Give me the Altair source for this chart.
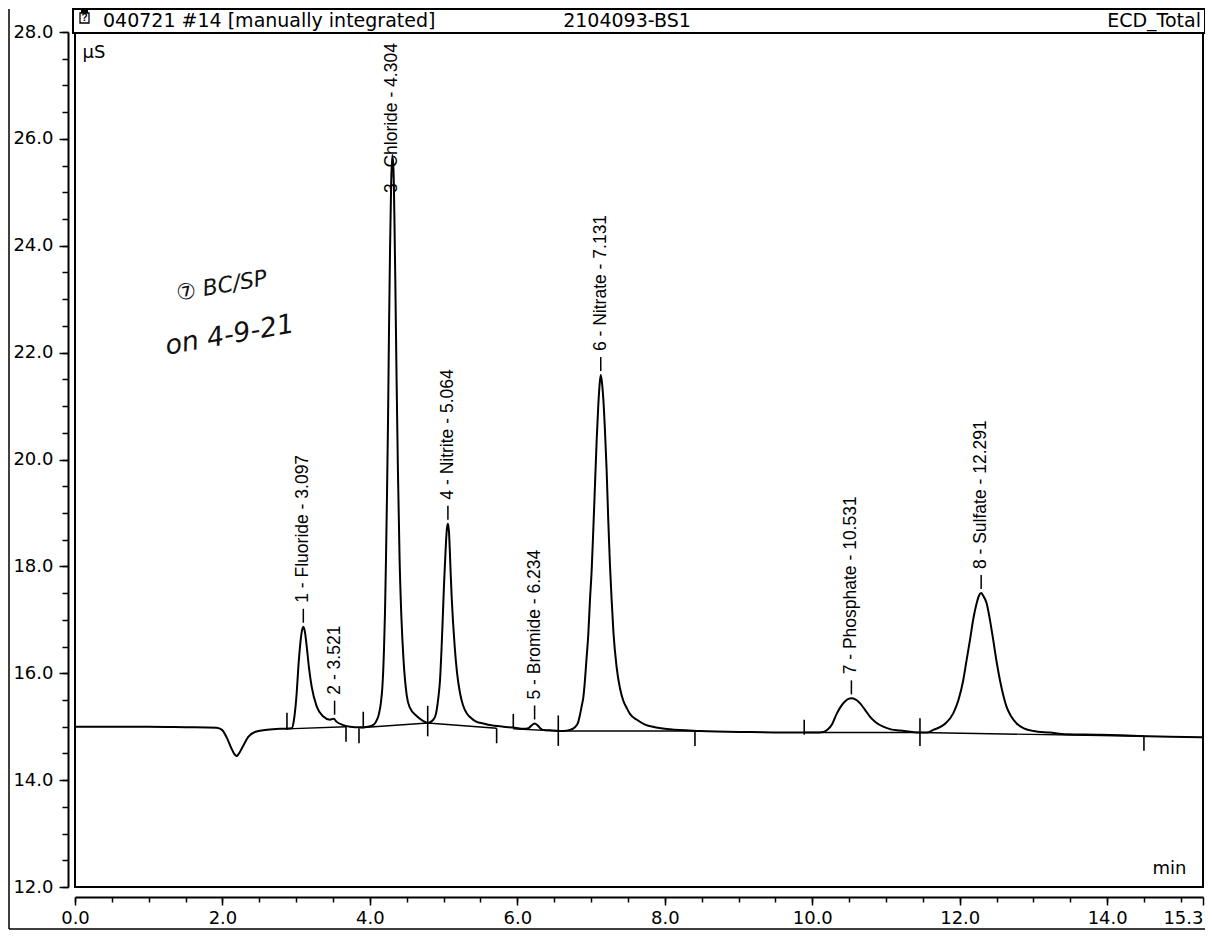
import altair as alt
import pandas as pd

# ---------------- data ----------------
trace_t = [0.000, 0.500, 1.000, 1.500, 1.920, 1.994, 2.060, 2.120, 2.160, 2.193, 2.220, 2.280, 2.350, 2.440,
           2.580, 2.780, 2.939, 2.970, 3.007, 3.031, 3.052, 3.075, 3.097, 3.119, 3.143, 3.174, 3.210, 3.278,
           3.368, 3.459, 3.509, 3.549, 3.639, 3.730, 3.865, 3.974, 4.055, 4.096, 4.123, 4.150, 4.171, 4.191,
           4.205, 4.218, 4.232, 4.246, 4.259, 4.273, 4.288, 4.304, 4.320, 4.334, 4.348, 4.362, 4.380, 4.403,
           4.426, 4.456, 4.499, 4.544, 4.634, 4.720, 4.784, 4.860, 4.896, 4.928, 4.950, 4.973, 4.990, 5.005,
           5.020, 5.034, 5.046, 5.058, 5.072, 5.084, 5.096, 5.110, 5.128, 5.150, 5.181, 5.222, 5.263, 5.313,
           5.357, 5.448, 5.538, 5.629, 5.809, 5.968, 6.080, 6.150, 6.190, 6.234, 6.278, 6.320, 6.351, 6.483,
           6.623, 6.714, 6.781, 6.822, 6.849, 6.876, 6.894, 6.917, 6.937, 6.962, 6.985, 7.008, 7.030, 7.053,
           7.076, 7.098, 7.115, 7.131, 7.147, 7.167, 7.188, 7.211, 7.233, 7.256, 7.279, 7.303, 7.346, 7.392,
           7.436, 7.487, 7.527, 7.622, 7.731, 7.866, 8.070, 8.477, 9.155, 9.833, 10.037, 10.149, 10.213,
           10.267, 10.331, 10.389, 10.443, 10.490, 10.531, 10.585, 10.646, 10.714, 10.782, 10.864, 10.963,
           11.068, 11.190, 11.460, 11.556, 11.641, 11.732, 11.813, 11.912, 11.983, 12.048, 12.094, 12.139,
           12.186, 12.230, 12.261, 12.291, 12.319, 12.365, 12.410, 12.455, 12.501, 12.546, 12.591, 12.636,
           12.695, 12.772, 12.871, 12.997, 13.224, 13.450, 13.902, 14.354, 14.851, 15.300]
trace_v = [15.00, 15.00, 15.00, 14.99, 14.98, 14.94, 14.79, 14.60, 14.49, 14.45, 14.49, 14.64, 14.81, 14.90,
           14.94, 14.96, 14.97, 15.13, 15.63, 16.15, 16.50, 16.77, 16.87, 16.77, 16.50, 16.10, 15.75, 15.38,
           15.19, 15.13, 15.15, 15.09, 15.03, 15.00, 14.99, 15.00, 15.04, 15.13, 15.24, 15.46, 15.78, 16.44,
           17.15, 18.12, 19.34, 20.74, 22.42, 23.92, 25.14, 25.70, 25.42, 24.39, 22.99, 21.49, 19.80, 18.12,
           17.09, 16.25, 15.59, 15.35, 15.20, 15.11, 15.07, 15.13, 15.24, 15.54, 15.85, 16.50, 17.10, 17.65,
           18.10, 18.50, 18.72, 18.80, 18.66, 18.30, 17.85, 17.40, 16.95, 16.50, 16.02, 15.63, 15.40, 15.25,
           15.18, 15.09, 15.06, 15.03, 15.00, 14.98, 14.96, 14.97, 15.02, 15.06, 15.02, 14.96, 14.94, 14.93,
           14.92, 14.94, 14.99, 15.07, 15.22, 15.41, 15.54, 15.87, 16.25, 16.72, 17.37, 17.93, 18.68, 19.52,
           20.37, 21.02, 21.39, 21.58, 21.45, 21.11, 20.55, 19.80, 18.87, 18.03, 17.37, 16.77, 16.12, 15.72,
           15.49, 15.34, 15.24, 15.13, 15.04, 14.99, 14.95, 14.92, 14.90, 14.89, 14.89, 14.90, 14.95,
           15.04, 15.24, 15.38, 15.47, 15.52, 15.53, 15.51, 15.44, 15.32, 15.19, 15.08, 15.00,
           14.95, 14.93, 14.89, 14.89, 14.94, 14.99, 15.07, 15.25, 15.50, 15.87, 16.25, 16.62,
           17.03, 17.31, 17.45, 17.50, 17.45, 17.31, 17.00, 16.62, 16.21, 15.87, 15.59, 15.37,
           15.20, 15.06, 14.97, 14.92, 14.89, 14.86, 14.85, 14.83, 14.81, 14.80]

peak_labels = ["1 - Fluoride - 3.097", "2 - 3.521", "3 - Chloride - 4.304", "4 - Nitrite - 5.064",
               "5 - Bromide - 6.234", "6 - Nitrate - 7.131", "7 - Phosphate - 10.531", "8 - Sulfate - 12.291"]
peak_t = [3.097, 3.521, 4.304, 5.058, 6.234, 7.131, 10.531, 12.291]
label_v = [16.87, 15.15, 24.54, 18.80, 15.06, 21.58, 15.53, 17.50]
dash_flag = [1, 1, 0, 1, 1, 1, 1, 1]

tick_t = [2.875, 3.676, 3.852, 3.910, 4.784, 5.719, 5.945, 6.555, 8.409, 9.891, 11.461, 14.499]
tick_lo = [14.94, 14.72, 14.69, 14.97, 14.82, 14.69, 14.97, 14.64, 14.64, 14.85, 14.64, 14.55]
tick_hi = [15.26, 15.00, 14.97, 15.28, 15.39, 14.97, 15.24, 15.21, 14.92, 15.13, 15.16, 14.81]

base_seg = [1, 1, 2, 2, 2, 3, 3, 4, 4, 5, 5, 5]
base_t = [2.875, 3.676, 3.866, 4.784, 5.719, 5.945, 6.555, 6.555, 8.409, 9.891, 11.461, 14.499]
base_v = [14.96, 15.00, 14.98, 15.07, 14.97, 14.96, 14.92, 14.92, 14.92, 14.89, 14.89, 14.82]

x_major_ticks = [0, 2, 4, 6, 8, 10, 12, 14]
x_end_tick = [15.3]
x_minor_ticks = [i * 0.5 for i in range(31)]
y_major_ticks = [12, 14, 16, 18, 20, 22, 24, 26, 28]
y_minor_ticks = [12 + i * 0.5 for i in range(33)]

header_left = "040721 #14 [manually integrated]"
header_mid = "2104093-BS1"
header_right = "ECD_Total"

note_text = ["\u2466 BC/SP", "on 4-9-21"]
note_t = [1.99, 2.10]
note_v = [23.25, 22.32]
note_size = [22, 27]

# ---------------- chart ----------------
FONT = "Liberation Sans"
WIDE = "DejaVu Sans"
W, H = 1128, 855

trace_df = pd.DataFrame({"t": trace_t, "v": trace_v})
labels_df = pd.DataFrame({"t": peak_t, "v": label_v, "label": peak_labels, "dash": dash_flag})
ticks_df = pd.DataFrame({"t": tick_t, "lo": tick_lo, "hi": tick_hi})
base_df = pd.DataFrame({"seg": base_seg, "t": base_t, "v": base_v})
note_df = pd.DataFrame({"t": note_t, "v": note_v, "text": note_text, "size": note_size})
one = pd.DataFrame({"a": [0]})

xs = alt.Scale(domain=[0, 15.3], nice=False, zero=False)
ys = alt.Scale(domain=[12, 28], nice=False, zero=False)

lab = dict(labelFont=WIDE, labelFontSize=18, labelColor="black", labelOverlap=False, labelFlush=False)

x_axis_major = alt.Axis(
    values=x_major_ticks, format=".1f", tickSize=8, offset=10, orient="bottom", labelPadding=4,
    grid=False, domainColor="black", domainWidth=2, tickColor="black", tickWidth=1.5,
    title="min", titleFont=WIDE, titleFontSize=18, titleFontWeight="normal", titleColor="black",
    titleX=1111, titleY=-24, titleAlign="right", titleBaseline="alphabetic", **lab,
)
x_axis_end = alt.Axis(
    values=x_end_tick, format=".1f", tickSize=8, offset=10, orient="bottom", labelPadding=4,
    labelAlign="right", domain=False, grid=False, tickColor="black", tickWidth=1.5, title=None, **lab,
)
x_axis_minor = alt.Axis(values=x_minor_ticks, labels=False, domain=False, tickSize=5, offset=10,
                        orient="bottom", title=None, grid=False, tickColor="black", tickWidth=1.5)
y_axis_major = alt.Axis(
    values=y_major_ticks, format=".1f", tickSize=9, offset=7, orient="left", labelPadding=6,
    grid=False, domainColor="black", domainWidth=2, tickColor="black", tickWidth=1.5,
    title="\u00b5S", titleFont=WIDE, titleFontSize=18, titleFontWeight="normal", titleColor="black",
    titleAngle=0, titleX=14, titleY=20, titleAlign="left", titleBaseline="middle", **lab,
)
y_axis_minor = alt.Axis(values=y_minor_ticks, labels=False, domain=False, tickSize=6, offset=7,
                        orient="left", title=None, grid=False, tickColor="black", tickWidth=1.5)

trace = alt.Chart(trace_df).mark_line(color="black", strokeWidth=2, interpolate="monotone").encode(
    x=alt.X("t:Q", scale=xs, axis=x_axis_major),
    y=alt.Y("v:Q", scale=ys, axis=y_axis_major),
)
minor = alt.Chart(trace_df).mark_line(strokeOpacity=0).encode(
    x=alt.X("t:Q", scale=xs, axis=x_axis_minor),
    y=alt.Y("v:Q", scale=ys, axis=y_axis_minor),
)
end_tick = alt.Chart(trace_df).mark_line(strokeOpacity=0).encode(
    x=alt.X("t:Q", scale=xs, axis=x_axis_end),
    y=alt.Y("v:Q", scale=ys, axis=None),
)

baselines = alt.Chart(base_df).mark_line(color="black", strokeWidth=1.4).encode(
    x=alt.X("t:Q", scale=xs, axis=None),
    y=alt.Y("v:Q", scale=ys, axis=None),
    detail="seg:N",
)

delims = alt.Chart(ticks_df).mark_rule(color="black", strokeWidth=1.6).encode(
    x=alt.X("t:Q", scale=xs, axis=None),
    y=alt.Y("lo:Q", scale=ys, axis=None),
    y2="hi:Q",
)

dashes = alt.Chart(labels_df).transform_filter("datum.dash == 1").mark_rule(
    color="black", strokeWidth=1.5, yOffset=-4, y2Offset=-18
).encode(
    x=alt.X("t:Q", scale=xs, axis=None),
    y=alt.Y("v:Q", scale=ys, axis=None),
    y2="v:Q",
)

labels = alt.Chart(labels_df).mark_text(
    angle=270, align="left", baseline="middle", yOffset=-24, font=FONT, fontSize=17.5, color="black"
).encode(
    x=alt.X("t:Q", scale=xs, axis=None),
    y=alt.Y("v:Q", scale=ys, axis=None),
    text="label:N",
)

notes = alt.Chart(note_df).mark_text(
    angle=350, align="center", baseline="middle", font=WIDE,
    fontStyle="italic", fontWeight=300, color="#111111"
).encode(
    x=alt.X("t:Q", scale=xs, axis=None),
    y=alt.Y("v:Q", scale=ys, axis=None),
    text="text:N",
    size=alt.Size("size:Q", scale=None, legend=None),
)

# header box and scan border
header_box = alt.Chart(one).mark_rect(fill="white", stroke="black", strokeWidth=2).encode(
    x=alt.value(-2), x2=alt.value(1130), y=alt.value(-23), y2=alt.value(1)
)
icon_box = alt.Chart(one).mark_rect(fill="white", stroke="black", strokeWidth=1.3).encode(
    x=alt.value(5), x2=alt.value(14), y=alt.value(-19), y2=alt.value(-9)
)
icon_cap = alt.Chart(one).mark_rect(fill="black").encode(
    x=alt.value(6), x2=alt.value(13), y=alt.value(-22), y2=alt.value(-19)
)
icon_q = alt.Chart(one).mark_text(font=FONT, fontSize=10, fontWeight="bold", color="black").encode(
    x=alt.value(9.5), y=alt.value(-14), text=alt.value("?")
)
head_l = alt.Chart(one).mark_text(font=WIDE, fontSize=19, align="left", baseline="middle", color="black").encode(
    x=alt.value(28), y=alt.value(-11), text=alt.value(header_left)
)
head_m = alt.Chart(one).mark_text(font=WIDE, fontSize=19, align="center", baseline="middle", color="black").encode(
    x=alt.value(552), y=alt.value(-11), text=alt.value(header_mid)
)
head_r = alt.Chart(one).mark_text(font=WIDE, fontSize=19, align="right", baseline="middle", color="black").encode(
    x=alt.value(1126), y=alt.value(-11), text=alt.value(header_right)
)
border_left = alt.Chart(one).mark_rule(color="black", strokeWidth=1.5).encode(
    x=alt.value(-66), y=alt.value(-23), y2=alt.value(897)
)
border_bottom = alt.Chart(one).mark_rule(color="black", strokeWidth=1.5).encode(
    x=alt.value(-66), x2=alt.value(1130), y=alt.value(897)
)

chart = alt.layer(
    trace, minor, end_tick, baselines, delims, dashes, labels, notes,
    header_box, icon_box, icon_cap, icon_q, head_l, head_m, head_r,
    border_left, border_bottom,
).resolve_axis(
    x="independent", y="independent"
).properties(
    width=W, height=H,
    padding={"left": 67, "top": 24, "right": 2, "bottom": 44},
    autosize=alt.AutoSizeParams(type="none"),
).configure(
    background="white"
).configure_view(
    stroke="black", strokeWidth=2
)

chart.save("out.html", embed_options={"renderer": "svg", "actions": False})
